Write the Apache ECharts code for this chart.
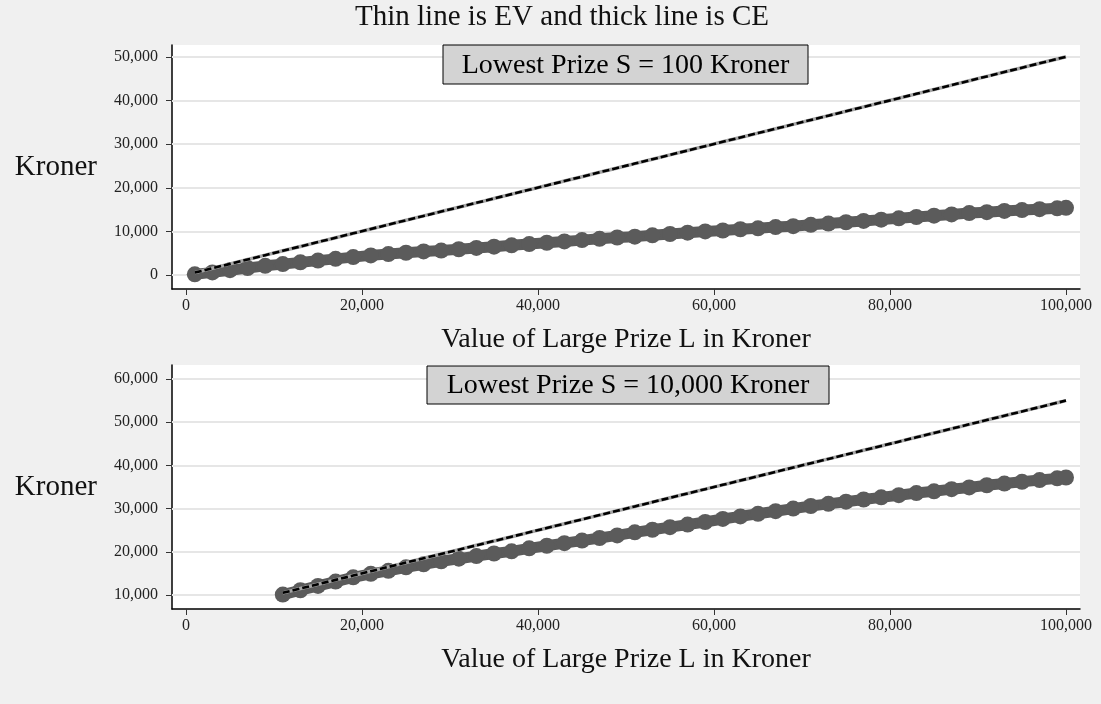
<!DOCTYPE html>
<html>
<head>
<meta charset="utf-8">
<script src="https://cdn.jsdelivr.net/npm/echarts@6/dist/echarts.min.js"></script>
<style>
html,body{margin:0;padding:0;background:#f0f0f0;}
#c{width:1101px;height:704px;}
</style>
</head>
<body>
<div id="c"></div>
<script>
// ---- data ----
const topL = [1000,3000,5000,7000,9000,11000,13000,15000,17000,19000,21000,23000,25000,27000,29000,31000,33000,35000,37000,39000,41000,43000,45000,47000,49000,51000,53000,55000,57000,59000,61000,63000,65000,67000,69000,71000,73000,75000,77000,79000,81000,83000,85000,87000,89000,91000,93000,95000,97000,99000,100000];
const topEV = [550,1550,2550,3550,4550,5550,6550,7550,8550,9550,10550,11550,12550,13550,14550,15550,16550,17550,18550,19550,20550,21550,22550,23550,24550,25550,26550,27550,28550,29550,30550,31550,32550,33550,34550,35550,36550,37550,38550,39550,40550,41550,42550,43550,44550,45550,46550,47550,48550,49550,50050];
const topCE = [150,600,1100,1600,2100,2500,2900,3300,3700,4100,4500,4800,5100,5400,5600,5900,6200,6500,6800,7100,7400,7700,8000,8300,8600,8800,9100,9400,9700,10000,10200,10500,10700,11000,11200,11500,11800,12100,12400,12700,13000,13300,13600,13900,14200,14400,14700,14900,15100,15300,15400];

const botL = [11000,13000,15000,17000,19000,21000,23000,25000,27000,29000,31000,33000,35000,37000,39000,41000,43000,45000,47000,49000,51000,53000,55000,57000,59000,61000,63000,65000,67000,69000,71000,73000,75000,77000,79000,81000,83000,85000,87000,89000,91000,93000,95000,97000,99000,100000];
const botEV = [10500,11500,12500,13500,14500,15500,16500,17500,18500,19500,20500,21500,22500,23500,24500,25500,26500,27500,28500,29500,30500,31500,32500,33500,34500,35500,36500,37500,38500,39500,40500,41500,42500,43500,44500,45500,46500,47500,48500,49500,50500,51500,52500,53500,54500,55000];
const botCE = [10100,11100,12100,13100,14100,14900,15600,16400,17100,17800,18400,19000,19600,20100,20800,21400,22000,22600,23200,23800,24500,25100,25700,26300,26900,27600,28200,28800,29400,30000,30600,31100,31600,32100,32600,33100,33600,34000,34500,34900,35400,35800,36200,36600,37000,37200];

const xTicks = [0,20000,40000,60000,80000,100000];
const yTicksTop = [0,10000,20000,30000,40000,50000];
const yTicksBot = [10000,20000,30000,40000,50000,60000];

const titleText = 'Thin line is EV and thick line is CE';
const boxTop = 'Lowest Prize S = 100 Kroner';
const boxBot = 'Lowest Prize S = 10,000 Kroner';
const xName = 'Value of Large Prize L in Kroner';
const yName = 'Kroner';

// ---- chart ----
const FONT = '"Liberation Serif", "Times New Roman", serif';
const fmt = v => String(v).replace(/\B(?=(\d{3})+(?!\d))/g, ',');
const zip = (a, b) => a.map((x, i) => [x, b[i]]);

function xAxis(gi){
  return {
    type:'value', gridIndex:gi, min:-1591, max:101591,
    name:xName, nameLocation:'middle', nameGap:37,
    nameTextStyle:{fontFamily:FONT, fontSize:28, color:'#111'},
    axisLine:{show:true, onZero:false, lineStyle:{color:'#000', width:1.5}},
    axisTick:{show:true, length:6, customValues:xTicks, lineStyle:{color:'#333'}},
    axisLabel:{customValues:xTicks, formatter:fmt, fontFamily:FONT, fontSize:16, color:'#222', margin:9},
    splitLine:{show:false}
  };
}
function yAxis(gi, min, max, ticks){
  return {
    type:'value', gridIndex:gi, min:min, max:max,
    name:yName, nameLocation:'middle', nameGap:75, nameRotate:0,
    nameTextStyle:{fontFamily:FONT, fontSize:29, color:'#111', align:'right'},
    axisLine:{show:true, onZero:false, lineStyle:{color:'#000', width:1.5}},
    axisTick:{show:true, length:6, customValues:ticks, lineStyle:{color:'#333'}},
    axisLabel:{customValues:ticks, formatter:fmt, fontFamily:FONT, fontSize:16, color:'#222', margin:14},
    splitLine:{show:false}
  };
}
function gridSeries(gi, ticks){
  return {
    type:'line', xAxisIndex:gi, yAxisIndex:gi, z:1, silent:true,
    data:[[xTicks[0], ticks[0]]], showSymbol:false, lineStyle:{width:0},
    markLine:{silent:true, z:1, symbol:['none','none'], label:{show:false},
      lineStyle:{color:'#e6e6e6', width:2, type:'solid'},
      data:ticks.map(t => ({yAxis:t}))}
  };
}
function ceSeries(gi, L, v){
  return {type:'line', xAxisIndex:gi, yAxisIndex:gi, z:6, data:zip(L, v),
    symbol:'circle', symbolSize:16, showSymbol:true,
    itemStyle:{color:'#5b5b5b'}, lineStyle:{color:'#5b5b5b', width:11}};
}
function evSeries(gi, L, v){
  return [
    {type:'line', xAxisIndex:gi, yAxisIndex:gi, z:7, data:zip(L, v), showSymbol:false,
      lineStyle:{color:'#a6a6a6', width:3.5}},
    {type:'line', xAxisIndex:gi, yAxisIndex:gi, z:8, data:zip(L, v), showSymbol:false,
      lineStyle:{color:'#000', width:2.6, type:[7,3]}}
  ];
}
function box(x, y, w, h, text){
  return {type:'group', children:[
    {type:'rect', shape:{x:x, y:y, width:w, height:h}, style:{fill:'#d3d3d3', stroke:'#000', lineWidth:1}, z:100},
    {type:'text', x:x + w/2, y:y + h/2 + 1, style:{text:text, fill:'#000', font:'28px ' + FONT, textAlign:'center', textVerticalAlign:'middle'}, z:101}
  ]};
}

const chart = echarts.init(document.getElementById('c'), null, {renderer:'canvas'});
chart.setOption({
  animation:false,
  backgroundColor:'#f0f0f0',
  title:{text:titleText, left:557, textAlign:'center', top:-2,
    textStyle:{fontFamily:FONT, fontSize:29, fontWeight:'normal', color:'#111'}},
  grid:[
    {left:172, top:45, width:908, height:244, show:true, backgroundColor:'#fff', borderWidth:0},
    {left:172, top:365, width:908, height:244, show:true, backgroundColor:'#fff', borderWidth:0}
  ],
  xAxis:[xAxis(0), xAxis(1)],
  yAxis:[yAxis(0, -3211, 52752, yTicksTop), yAxis(1, 6759, 63241, yTicksBot)],
  series:[
    gridSeries(0, yTicksTop), ceSeries(0, topL, topCE), ...evSeries(0, topL, topEV),
    gridSeries(1, yTicksBot), ceSeries(1, botL, botCE), ...evSeries(1, botL, botEV)
  ],
  graphic:[box(443, 45, 365, 39, boxTop), box(427, 366, 402, 38, boxBot)]
});
</script>
</body>
</html>
